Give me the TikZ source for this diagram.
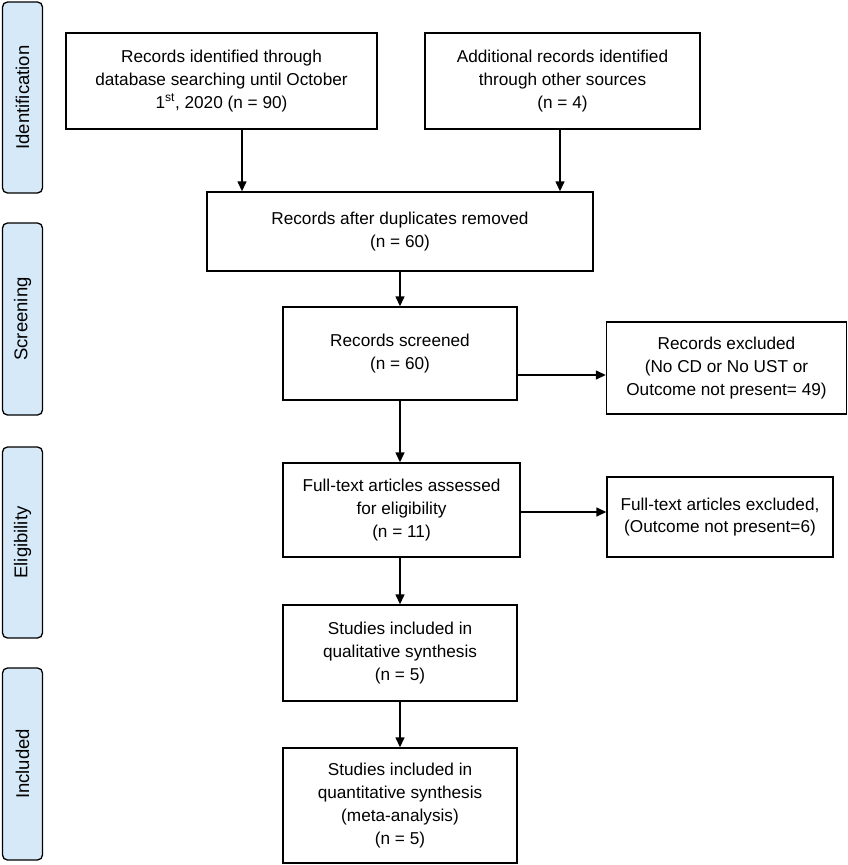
\documentclass[tikz,border=0pt]{standalone}
\usepackage{fontspec}
\setmainfont{Liberation Sans}
\usetikzlibrary{arrows.meta}
\definecolor{sidefill}{RGB}{214,233,248}
\begin{document}
\begin{tikzpicture}[x=1pt,y=-1pt,
  flowbox/.style={draw=black,line width=1.4pt,fill=white,align=center,inner sep=0pt,
    font=\fontsize{17.2}{22.8}\selectfont},
  sidebox/.style={draw=black,line width=1.3pt,fill=sidefill,rounded corners=5pt,
    minimum width=40pt,inner sep=0pt,rotate=90,font=\fontsize{18.5}{20}\selectfont},
  arr/.style={line width=1.4pt,-{Triangle[length=10pt,width=9pt]}}]
\useasboundingbox (0,0) rectangle (848,865);

% phase labels
\node[sidebox,minimum width=191pt,minimum height=40pt] (sid) at (22.5,97.5) {Identification};
\node[sidebox,minimum width=192pt,minimum height=40pt] (ssc) at (22.5,319) {Screening};
\node[sidebox,minimum width=191pt,minimum height=40pt] (sel) at (22.5,542.5) {Eligibility};
\node[sidebox,minimum width=192pt,minimum height=40pt] (sin) at (22.5,764) {Included};

% boxes
\node[flowbox,minimum width=311pt,minimum height=96pt] (b1) at (221.5,81)
  {Records identified through\\database searching until October\\1\textsuperscript{st}, 2020 (n = 90)};
\node[flowbox,minimum width=275pt,minimum height=96pt] (b2) at (562.5,81)
  {Additional records identified\\through other sources\\(n = 4)};
\node[flowbox,minimum width=386pt,minimum height=79pt] (b3) at (400,231.5)
  {Records after duplicates removed\\(n = 60)};
\node[flowbox,minimum width=234pt,minimum height=93pt] (b4) at (400,353.5)
  {Records screened\\(n = 60)};
\node[flowbox,minimum width=240pt,minimum height=92pt] (x1) at (726.5,368)
  {Records excluded\\(No CD or No UST or\\Outcome not present= 49)};
\node[flowbox,minimum width=237pt,minimum height=94pt] (b5) at (401.5,510)
  {Full-text articles assessed\\for eligibility\\(n = 11)};
\node[flowbox,minimum width=226pt,minimum height=80pt] (x2) at (720,517)
  {Full-text articles excluded,\\(Outcome not present=6)};
\node[flowbox,minimum width=234pt,minimum height=96pt] (b6) at (400,653)
  {Studies included in\\qualitative synthesis\\(n = 5)};
\node[flowbox,minimum width=234pt,minimum height=115pt] (b7) at (400,805.5)
  {Studies included in\\quantitative synthesis\\(meta-analysis)\\(n = 5)};

% connectors
\draw[arr] ([xshift=20.5pt]b1.south) -- ([xshift=20.5pt]b1.south |- b3.north);
\draw[arr] ([xshift=-2.5pt]b2.south) -- ([xshift=-2.5pt]b2.south |- b3.north);
\draw[arr] (b3.south) -- (b3.south |- b4.north);
\draw[arr] ([yshift=-21.5pt]b4.east) -- ([yshift=-21.5pt]b4.east -| x1.west);
\draw[arr] (b4.south) -- (b4.south |- b5.north);
\draw[arr] ([yshift=-2pt]b5.east) -- ([yshift=-2pt]b5.east -| x2.west);
\draw[arr] (b4.south |- b5.south) -- (b4.south |- b6.north);
\draw[arr] (b4.south |- b6.south) -- (b4.south |- b7.north);
\end{tikzpicture}
\end{document}
